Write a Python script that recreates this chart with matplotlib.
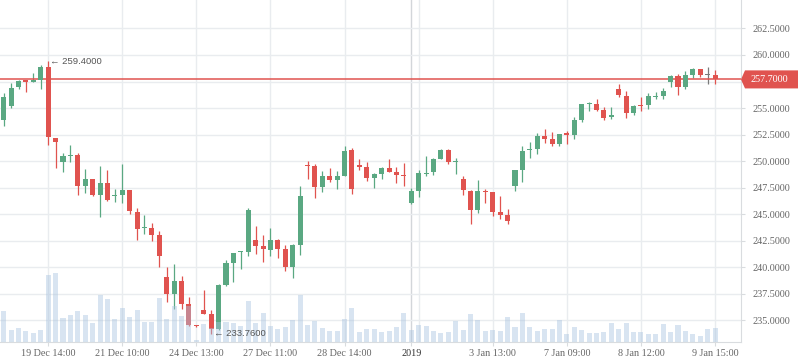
import numpy as np
import matplotlib
matplotlib.use('Agg')
import matplotlib.pyplot as plt
from matplotlib.patches import Polygon
from matplotlib.ticker import FuncFormatter

# hourly OHLC
opens = [253.84, 255.16, 256.94, 257.59, 257.50, 257.62, 258.88, 252.19, 249.91, 250.50,
         250.62, 247.66, 248.28, 246.81, 247.91, 246.72, 246.78, 247.25, 245.25, 243.66,
         243.69, 243.03, 239.09, 237.44, 238.72, 236.50, 234.50, 236.00, 235.63, 234.22,
         238.34, 240.41, 241.41, 241.47, 242.56, 242.00, 241.66, 242.56, 241.72, 240.06,
         242.09, 249.56, 249.50, 247.56, 248.56, 248.19, 248.56, 251.09, 249.59, 249.41,
         248.41, 248.75, 249.31, 248.94, 248.66, 246.03, 247.19, 248.81, 248.94, 250.16,
         251.09, 249.91, 248.28, 247.16, 245.38, 247.22, 247.06, 245.19, 244.91, 247.66,
         249.16, 251.03, 251.19, 252.41, 252.13, 251.66, 252.69, 252.50, 253.91, 255.34,
         255.41, 254.84, 254.13, 256.81, 256.16, 254.50, 255.31, 255.25, 256.06, 256.16,
         257.50, 258.03, 256.94, 258.16, 258.69, 258.09, 258.13]
highs = [256.41, 257.34, 257.66, 257.62, 258.34, 259.06, 259.40, 252.19, 250.81, 251.56,
         250.72, 249.22, 248.34, 249.50, 249.13, 247.34, 249.69, 247.25, 245.56, 244.91,
         244.16, 243.41, 240.03, 240.31, 239.19, 237.19, 234.59, 237.88, 236.00, 238.44,
         240.69, 241.38, 241.56, 245.56, 243.88, 243.03, 243.69, 242.66, 242.09, 242.19,
         247.63, 250.06, 249.69, 249.03, 249.31, 249.03, 251.38, 251.28, 250.16, 249.88,
         248.84, 249.41, 250.16, 249.41, 249.78, 247.44, 249.13, 250.44, 250.34, 251.19,
         251.19, 250.25, 248.56, 247.25, 248.19, 247.34, 247.06, 246.69, 245.47, 249.13,
         251.38, 251.84, 252.69, 253.06, 252.78, 252.59, 252.88, 254.19, 255.41, 255.59,
         255.88, 255.13, 255.13, 257.28, 256.63, 255.31, 256.06, 256.44, 256.53, 256.91,
         258.13, 258.22, 258.50, 258.78, 258.69, 258.88, 258.59]
lows = [253.28, 255.00, 256.84, 256.56, 257.50, 256.75, 251.56, 249.31, 248.97, 249.91,
        246.81, 247.00, 246.69, 244.75, 246.25, 246.16, 246.03, 245.00, 242.59, 243.16,
        242.50, 240.06, 236.69, 236.03, 236.09, 234.44, 234.34, 235.63, 233.76, 234.13,
        238.28, 238.66, 239.84, 241.09, 241.25, 240.53, 241.06, 240.91, 239.69, 239.03,
        241.19, 248.28, 246.50, 247.06, 248.00, 247.34, 248.56, 246.88, 249.13, 248.09,
        247.44, 248.28, 248.94, 247.91, 247.63, 245.94, 246.59, 248.56, 248.66, 250.16,
        249.69, 248.75, 246.78, 244.06, 245.09, 246.03, 244.81, 244.53, 244.06, 247.16,
        248.03, 250.25, 250.63, 251.75, 251.47, 251.47, 251.66, 252.13, 253.72, 254.75,
        254.75, 253.91, 254.00, 256.00, 254.03, 254.31, 254.69, 254.88, 255.88, 255.81,
        257.00, 256.19, 256.84, 257.84, 257.88, 257.31, 257.28]
closes = [256.03, 256.91, 257.59, 257.50, 257.60, 258.88, 252.25, 251.78, 250.44, 250.62,
          247.66, 248.28, 246.81, 247.91, 246.34, 246.78, 247.25, 245.31, 243.63, 243.72,
          243.06, 241.09, 237.44, 238.72, 236.50, 234.53, 234.44, 235.63, 234.22, 238.34,
          240.41, 241.31, 241.47, 245.38, 242.03, 241.75, 242.56, 241.75, 240.06, 242.09,
          246.69, 249.50, 247.56, 248.56, 248.19, 248.56, 251.00, 247.34, 249.41, 248.38,
          248.75, 249.31, 248.94, 248.69, 248.59, 247.16, 248.84, 248.88, 250.16, 251.09,
          249.88, 249.97, 247.25, 245.38, 247.16, 247.13, 245.19, 244.94, 244.38, 249.13,
          251.00, 251.16, 252.41, 252.13, 251.66, 252.59, 252.50, 253.91, 255.41, 255.44,
          254.84, 254.09, 254.38, 256.19, 254.50, 255.22, 255.16, 256.16, 256.16, 256.63,
          258.03, 256.94, 258.13, 258.69, 258.16, 258.09, 257.70]
volumes = [92, 35, 40, 32, 25, 34, 199, 205, 70, 79, 91, 79, 55, 139, 127, 67, 100,
           74, 94, 58, 58, 130, 69, 108, 76, 108, 4, 54, 42, 60, 60, 57, 47, 121,
           57, 85, 46, 37, 43, 65, 140, 49, 61, 40, 31, 31, 67, 100, 28, 37,
           37, 28, 31, 43, 85, 34, 49, 46, 31, 25, 28, 61, 34, 82, 64, 31, 34,
           31, 73, 43, 85, 43, 31, 37, 37, 64, 22, 43, 34, 25, 25, 28, 55,
           37, 55, 28, 28, 22, 22, 52, 28, 49, 31, 22, 16, 37, 40]

tick_labels = ['19 Dec 14:00', '21 Dec 10:00', '24 Dec 13:00', '27 Dec 11:00', '28 Dec 14:00',
               '2019', '3 Jan 13:00', '7 Jan 09:00', '8 Jan 12:00', '9 Jan 15:00']
tick_index = [6, 16, 26, 36, 46, 55, 66, 76, 86, 96]
year_index = 55
last_price = 257.70
high_mark = (6, 259.40)
low_mark = (28, 233.76)

UP = '#5aa882'
DOWN = '#e0534f'
FLAT = '#7a7a7a'
GRID = '#e9ecef'
SPINE = '#d9dcdf'
SANS = ['Liberation Sans', 'DejaVu Sans']

plt.rcParams['font.family'] = ['Liberation Serif', 'DejaVu Serif']

fig = plt.figure(figsize=(7.98, 3.63), dpi=100)
ax = fig.add_axes([0, 21.3 / 363, 741 / 798, 341.7 / 363])

x = np.arange(len(opens))
o = np.array(opens)
c = np.array(closes)
colors = np.where(c > o, UP, np.where(c < o, DOWN, FLAT))

# grid
for i in range(6, len(x), 10):
    ax.axvline(i, color=GRID, lw=1, zorder=0)
ax.axvline(year_index, color='#d3d6da', lw=1, zorder=0)
ax.set_yticks(np.arange(235, 263, 2.5))
ax.grid(axis='y', color=GRID, lw=1, zorder=0)
ax.set_axisbelow(True)

# candles
ax.vlines(x, lows, highs, colors=colors, lw=0.9, zorder=2)
body = np.maximum(np.abs(c - o), 0.1)
ax.bar(x, body, bottom=np.minimum(o, c), width=0.68, color=colors, zorder=3)

ax.axhline(last_price, color=DOWN, lw=1.1, zorder=2.5)

# volume overlay
ax2 = ax.twinx()
ax2.bar(x, volumes, width=0.68, color='#a9c4e0', alpha=0.45, zorder=1)
ax2.set_ylim(0, max(volumes) * 5.0)
ax2.axis('off')


def price_fmt(v, pos):
    # the last-price tag sits over this label
    if abs(v - last_price) < 1.0:
        return ''
    return '%.4f' % v


ax.yaxis.tick_right()
ax.set_xlim(-0.5, 99.5)
ax.set_ylim(232.99, 265.18)
ax.yaxis.set_major_formatter(FuncFormatter(price_fmt))
ax.set_xticks(tick_index, tick_labels)
ax.tick_params(axis='both', labelsize=7.3, labelcolor='#666666', color=SPINE, length=3)
ax.tick_params(axis='y', pad=5)
ax.tick_params(axis='x', pad=2.4)
ax.get_xticklabels()[5].set_color('#333333')
for s in ['left', 'top']:
    ax.spines[s].set_visible(False)
for s in ['right', 'bottom']:
    ax.spines[s].set_color(SPINE)

# high / low markers
ax2.text(high_mark[0] + 0.3, high_mark[1], '\u2190 %.4f' % high_mark[1], transform=ax.transData,
         fontsize=6.8, color='#555555', va='center', ha='left', family=SANS, zorder=6)
ax2.text(low_mark[0] + 0.4, low_mark[1], '\u2190 %.4f' % low_mark[1], transform=ax.transData,
         fontsize=6.8, color='#555555', va='center', ha='left', family=SANS, zorder=6)

# last price tag on the axis
tr = ax.get_yaxis_transform()
w = 57 / 741
n = 4 / 741
dy = 0.85
tag = Polygon([(1.0, last_price), (1 + n, last_price + dy), (1 + w, last_price + dy),
               (1 + w, last_price - dy), (1 + n, last_price - dy)], closed=True,
              transform=tr, clip_on=False, facecolor=DOWN, edgecolor='none', zorder=5)
ax.add_artist(tag)
ax.text(1 + 10 / 741, last_price, '%.4f' % last_price, transform=tr, color='white',
        fontsize=7.3, va='center', ha='left', clip_on=False, zorder=6)

fig.savefig('out.png', dpi=100)
